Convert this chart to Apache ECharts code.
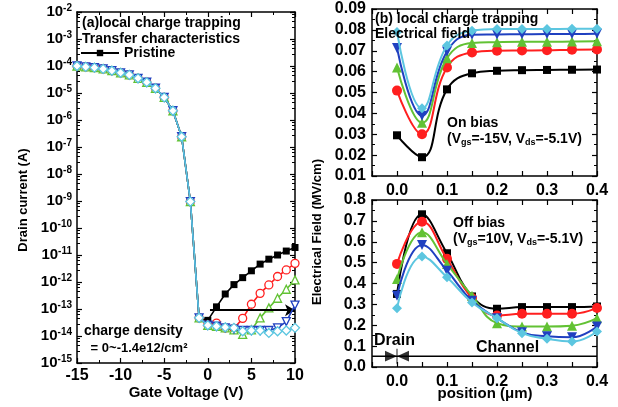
<!DOCTYPE html>
<html>
<head>
<meta charset="utf-8">
<script src="https://cdn.jsdelivr.net/npm/echarts@6/dist/echarts.min.js"></script>
<style>html,body{margin:0;padding:0;background:#fff;}#c{width:618px;height:407px;}</style>
</head>
<body>
<div id="c"></div>
<script>
// ---------- Panel (a): transfer characteristics ----------
const gateVoltage = [-15,-14,-13,-12,-11,-10,-9,-8,-7,-6,-5,-4,-3,-2,-1,0,1,2,3,4,5,6,7,8,9,10];
// shared on-state current, Vg = -15 .. -1
const onCurrent = [1.0e-4,9.3e-5,8.7e-5,7.8e-5,6.7e-5,5.6e-5,4.7e-5,3.5e-5,2.5e-5,1.5e-5,6.9e-6,2.2e-6,2.4e-7,9.5e-10,4.7e-14];
// off-state current, Vg = 0 .. 10
const offPristine = [3.8e-14,1.2e-13,3.6e-13,8.0e-13,1.45e-12,2.6e-12,4.6e-12,7.0e-12,1.0e-11,1.4e-11,1.9e-11];
const offRed      = [2.6e-14,3.0e-14,2.0e-14,1.9e-14,4.5e-14,1.5e-13,3.8e-13,7.8e-13,1.6e-12,2.8e-12,4.9e-12];
const offGreen    = [2.5e-14,2.3e-14,2.0e-14,1.7e-14,1.15e-14,1.7e-14,4.7e-14,1.1e-13,2.5e-13,5.4e-13,1.2e-12];
const offBlue     = [2.5e-14,2.3e-14,2.0e-14,1.8e-14,1.6e-14,1.6e-14,1.6e-14,1.6e-14,2.0e-14,3.4e-14,1.4e-13];
const offCyan     = [2.5e-14,2.3e-14,2.1e-14,2.0e-14,1.5e-14,1.6e-14,1.6e-14,1.3e-14,1.5e-14,1.6e-14,2.0e-14];
const arrowLevel = 9e-14, arrowFrom = 0.25, arrowTo = 10;

// ---------- Panel (b): electrical field ----------
const position = [0,0.05,0.1,0.15,0.2,0.25,0.3,0.35,0.4];
const onBlack = [0.0295,0.019,0.0515,0.0592,0.0604,0.0607,0.0608,0.0609,0.061];
const onRed   = [0.0509,0.030,0.062,0.0692,0.070,0.0701,0.0702,0.0705,0.0706];
const onGreen = [0.062,0.0355,0.0664,0.0737,0.0741,0.0743,0.0743,0.0744,0.0745];
const onBlue  = [0.0713,0.0389,0.0696,0.0777,0.0778,0.0779,0.078,0.078,0.0781];
const onCyan  = [0.079,0.0424,0.0725,0.0796,0.0804,0.0804,0.0804,0.0805,0.0805];
const offBlack = [0.35,0.7315,0.545,0.338,0.279,0.287,0.287,0.287,0.29];
const offRedF  = [0.494,0.696,0.518,0.330,0.247,0.255,0.255,0.255,0.283];
const offGreenF= [0.421,0.645,0.494,0.341,0.210,0.194,0.194,0.198,0.234];
const offBlueF = [0.341,0.585,0.461,0.317,0.234,0.166,0.147,0.142,0.194];
const offCyanF = [0.282,0.529,0.430,0.309,0.234,0.162,0.135,0.122,0.170];
const markerLevel = 0.052;

const F = '"Liberation Sans", Arial, sans-serif';
const colors = ['#000000','#ff1f1f','#62c234','#2040c0','#5cc6e0'];

function pairs(xs, ys){ return xs.map((x,i)=>[x, ys[i]]); }
const fullCurves = [offPristine, offRed, offGreen, offBlue, offCyan].map(off => onCurrent.concat(off));

const tickCommon = {inside:true, length:5, lineStyle:{color:'#000', width:1.2}};
const minorCommon = {show:true, length:3, lineStyle:{color:'#000', width:1}};
const lineCommon = {show:true, onZero:false, lineStyle:{color:'#000', width:1.5}};
const lblBold = {fontFamily:F, fontWeight:'bold', fontSize:15, color:'#000'};

function mirrorX(gi, min, max, interval, minorSplit){
  return {type:'value', gridIndex:gi, position:'top', min, max, interval,
    axisLine:lineCommon, axisTick:tickCommon, minorTick:Object.assign({splitNumber:minorSplit}, minorCommon),
    axisLabel:{show:false}, splitLine:{show:false}};
}
const posFmt = v => (v >= -1e-9 && Math.abs(v*10 - Math.round(v*10)) < 1e-6) ? v.toFixed(1) : '';

const xAxis = [
  {type:'value', gridIndex:0, min:-15, max:10, interval:5, axisLine:lineCommon, axisTick:tickCommon,
   minorTick:Object.assign({splitNumber:2}, minorCommon), splitLine:{show:false},
   axisLabel:Object.assign({margin:5}, lblBold, {fontSize:16})},
  mirrorX(0, -15, 10, 5, 2),
  {type:'value', gridIndex:1, min:-0.05, max:0.4, interval:0.05, axisLine:lineCommon, axisTick:tickCommon,
   splitLine:{show:false}, axisLabel:Object.assign({margin:7, formatter:posFmt}, lblBold, {fontSize:16})},
  mirrorX(1, -0.05, 0.4, 0.05, 1),
  {type:'value', gridIndex:2, min:-0.05, max:0.4, interval:0.05, axisLine:lineCommon, axisTick:tickCommon,
   splitLine:{show:false}, axisLabel:Object.assign({margin:7, formatter:posFmt}, lblBold, {fontSize:16})},
  mirrorX(2, -0.05, 0.4, 0.05, 1)
];

const logRich = {b:{fontFamily:F, fontWeight:'bold', fontSize:15, color:'#000', lineHeight:18},
                 s:{fontFamily:F, fontWeight:'bold', fontSize:10, color:'#000', lineHeight:10, verticalAlign:'top'}};
const yAxis = [
  {type:'log', gridIndex:0, min:1e-15, max:1e-2, logBase:10, interval:1, splitNumber:13, axisLine:lineCommon, axisTick:tickCommon,
   minorTick:Object.assign({splitNumber:5}, minorCommon), splitLine:{show:false},
   axisLabel:{margin:5, formatter:v => '{b|10}{s|' + Math.round(Math.log10(v)) + '}', rich:logRich}},
  {type:'log', gridIndex:0, position:'right', min:1e-15, max:1e-2, logBase:10, interval:1, splitNumber:13, axisLine:lineCommon, axisTick:tickCommon,
   minorTick:Object.assign({splitNumber:5}, minorCommon), axisLabel:{show:false}, splitLine:{show:false}},
  {type:'value', gridIndex:1, min:0.01, max:0.09, interval:0.01, axisLine:lineCommon, axisTick:tickCommon,
   minorTick:Object.assign({splitNumber:2}, minorCommon), splitLine:{show:false},
   axisLabel:Object.assign({margin:6, formatter:v => v.toFixed(2)}, lblBold, {fontSize:16})},
  {type:'value', gridIndex:1, position:'right', min:0.01, max:0.09, interval:0.01, axisLine:lineCommon, axisTick:tickCommon,
   minorTick:Object.assign({splitNumber:2}, minorCommon), axisLabel:{show:false}, splitLine:{show:false}},
  {type:'value', gridIndex:2, min:0, max:0.8, interval:0.1, axisLine:lineCommon, axisTick:tickCommon,
   minorTick:Object.assign({splitNumber:2}, minorCommon), splitLine:{show:false},
   axisLabel:Object.assign({margin:6, formatter:v => v.toFixed(1)}, lblBold, {fontSize:16})},
  {type:'value', gridIndex:2, position:'right', min:0, max:0.8, interval:0.1, axisLine:lineCommon, axisTick:tickCommon,
   minorTick:Object.assign({splitNumber:2}, minorCommon), axisLabel:{show:false}, splitLine:{show:false}}
];

const leftSymbols = ['rect','circle','triangle','path://M0,0L10,0L5,9Z','diamond'];
const leftSizes = [7,8,8,8,9];
const names = ['Pristine','s2','s3','s4','s5'];
const series = [];
fullCurves.forEach((ys, k) => {
  const s = {
    name:names[k], type:'line', xAxisIndex:0, yAxisIndex:0, data:pairs(gateVoltage, ys),
    symbol:leftSymbols[k], symbolSize:leftSizes[k], showAllSymbol:true,
    lineStyle:{color:colors[k], width:1.6},
    itemStyle: k === 0 ? {color:'#000'} : {color:'#fff', borderColor:colors[k], borderWidth:1.3},
    z: 2 + k, animation:false
  };
  if (k === 0) {
    s.markLine = {silent:true, symbol:['none','arrow'], symbolSize:[9,10], label:{show:false},
      lineStyle:{color:'#000', width:2, type:'solid'},
      data:[[{coord:[arrowFrom, arrowLevel]},{coord:[arrowTo, arrowLevel]}]], animation:false};
  }
  series.push(s);
});

const rightSymbols = ['rect','circle','triangle','path://M0,0L10,0L5,9Z','diamond'];
const rightSizes = [8,10,10,10,10];
[onBlack,onRed,onGreen,onBlue,onCyan].forEach((ys,k) => {
  series.push({type:'line', xAxisIndex:2, yAxisIndex:2, data:pairs(position, ys), smooth:0.45,
    symbol:rightSymbols[k], symbolSize:rightSizes[k], lineStyle:{color:colors[k], width:2},
    itemStyle:{color:colors[k]}, z:2+k, animation:false});
});
[offBlack,offRedF,offGreenF,offBlueF,offCyanF].forEach((ys,k) => {
  series.push({type:'line', xAxisIndex:4, yAxisIndex:4, data:pairs(position, ys), smooth:0.45,
    symbol:rightSymbols[k], symbolSize:rightSizes[k], lineStyle:{color:colors[k], width:2},
    itemStyle:{color:colors[k]}, z:2+k, animation:false});
});
// drain/channel marker line
series.push({type:'line', xAxisIndex:4, yAxisIndex:4, data:[[-0.05, markerLevel],[0.4, markerLevel]],
  symbol:'none', lineStyle:{color:'#000', width:1.5}, z:1, animation:false});
series.push({type:'scatter', xAxisIndex:4, yAxisIndex:4, data:[[0, markerLevel]],
  symbol:'path://M0,2L11,7L0,12ZM22,2L11,7L22,12ZM10.5,0L11.5,0L11.5,14L10.5,14Z', symbolSize:[24,15],
  itemStyle:{color:'#000'}, z:8, animation:false});

const subRich = {n:{font:'bold 14px ' + F, fill:'#000'}, sub:{font:'bold 9px ' + F, fill:'#000', padding:[8,0,0,0]}};

const graphic = [
  {type:'text', x:23, y:200, rotation:Math.PI/2, z:100,
   style:{text:'Drain current (A)', font:'bold 13px ' + F, fill:'#000', align:'center', verticalAlign:'middle'}},
  {type:'text', x:317, y:232, rotation:Math.PI/2, z:100,
   style:{text:'Electrical Field (MV/cm)', font:'bold 13px ' + F, fill:'#000', align:'center', verticalAlign:'middle'}},
  {type:'text', x:186, y:393, z:100, style:{text:'Gate Voltage (V)', font:'bold 15px ' + F, fill:'#000', align:'center', verticalAlign:'middle'}},
  {type:'text', x:485, y:394, z:100, style:{text:'position (\u03bcm)', font:'bold 15px ' + F, fill:'#000', align:'center', verticalAlign:'middle'}},
  {type:'text', x:82, y:23, z:100, style:{text:'(a)local charge trapping', font:'bold 14px ' + F, fill:'#000', verticalAlign:'middle'}},
  {type:'text', x:82, y:39, z:100, style:{text:'Transfer characteristics', font:'bold 14px ' + F, fill:'#000', verticalAlign:'middle'}},
  {type:'text', x:84, y:331, z:100, style:{text:'charge density', font:'bold 14px ' + F, fill:'#000', verticalAlign:'middle'}},
  {type:'text', x:87, y:348, z:100, style:{text:' = 0~-1.4e12/cm\u00b2', font:'bold 13px ' + F, fill:'#000', verticalAlign:'middle'}},
  {type:'text', x:375, y:19, z:100, style:{text:'(b) local charge trapping', font:'bold 14px ' + F, fill:'#000', verticalAlign:'middle'}},
  {type:'text', x:375, y:34, z:100, style:{text:'Electrical field', font:'bold 14px ' + F, fill:'#000', verticalAlign:'middle'}},
  {type:'text', x:447, y:123, z:100, style:{text:'On bias', font:'bold 14px ' + F, fill:'#000', verticalAlign:'middle'}},
  {type:'text', x:447, y:139, z:100, style:{text:'{n|(V}{sub|gs}{n|=-15V, V}{sub|ds}{n|=-5.1V)}', rich:subRich, verticalAlign:'middle'}},
  {type:'text', x:453, y:223, z:100, style:{text:'Off bias', font:'bold 14px ' + F, fill:'#000', verticalAlign:'middle'}},
  {type:'text', x:453, y:239, z:100, style:{text:'{n|(V}{sub|gs}{n|=10V, V}{sub|ds}{n|=-5.1V)}', rich:subRich, verticalAlign:'middle'}},
  {type:'text', x:374, y:341, z:100, style:{text:'Drain', font:'bold 16px ' + F, fill:'#000', verticalAlign:'middle'}},
  {type:'text', x:476, y:348, z:100, style:{text:'Channel', font:'bold 16px ' + F, fill:'#000', verticalAlign:'middle'}}
];

const chart = echarts.init(document.getElementById('c'), null, {renderer:'canvas'});
chart.setOption({
  backgroundColor:'#fff',
  animation:false,
  grid:[
    {left:77, top:12, width:218, height:351},
    {left:372, top:9, width:225, height:167},
    {left:372, top:200, width:225, height:167}
  ],
  legend:{data:['Pristine'], left:80, top:46, itemWidth:38, itemHeight:8, itemGap:4, padding:0,
    textStyle:{fontFamily:F, fontWeight:'bold', fontSize:14, color:'#000'}},
  xAxis, yAxis, series, graphic
});
</script>
</body>
</html>
